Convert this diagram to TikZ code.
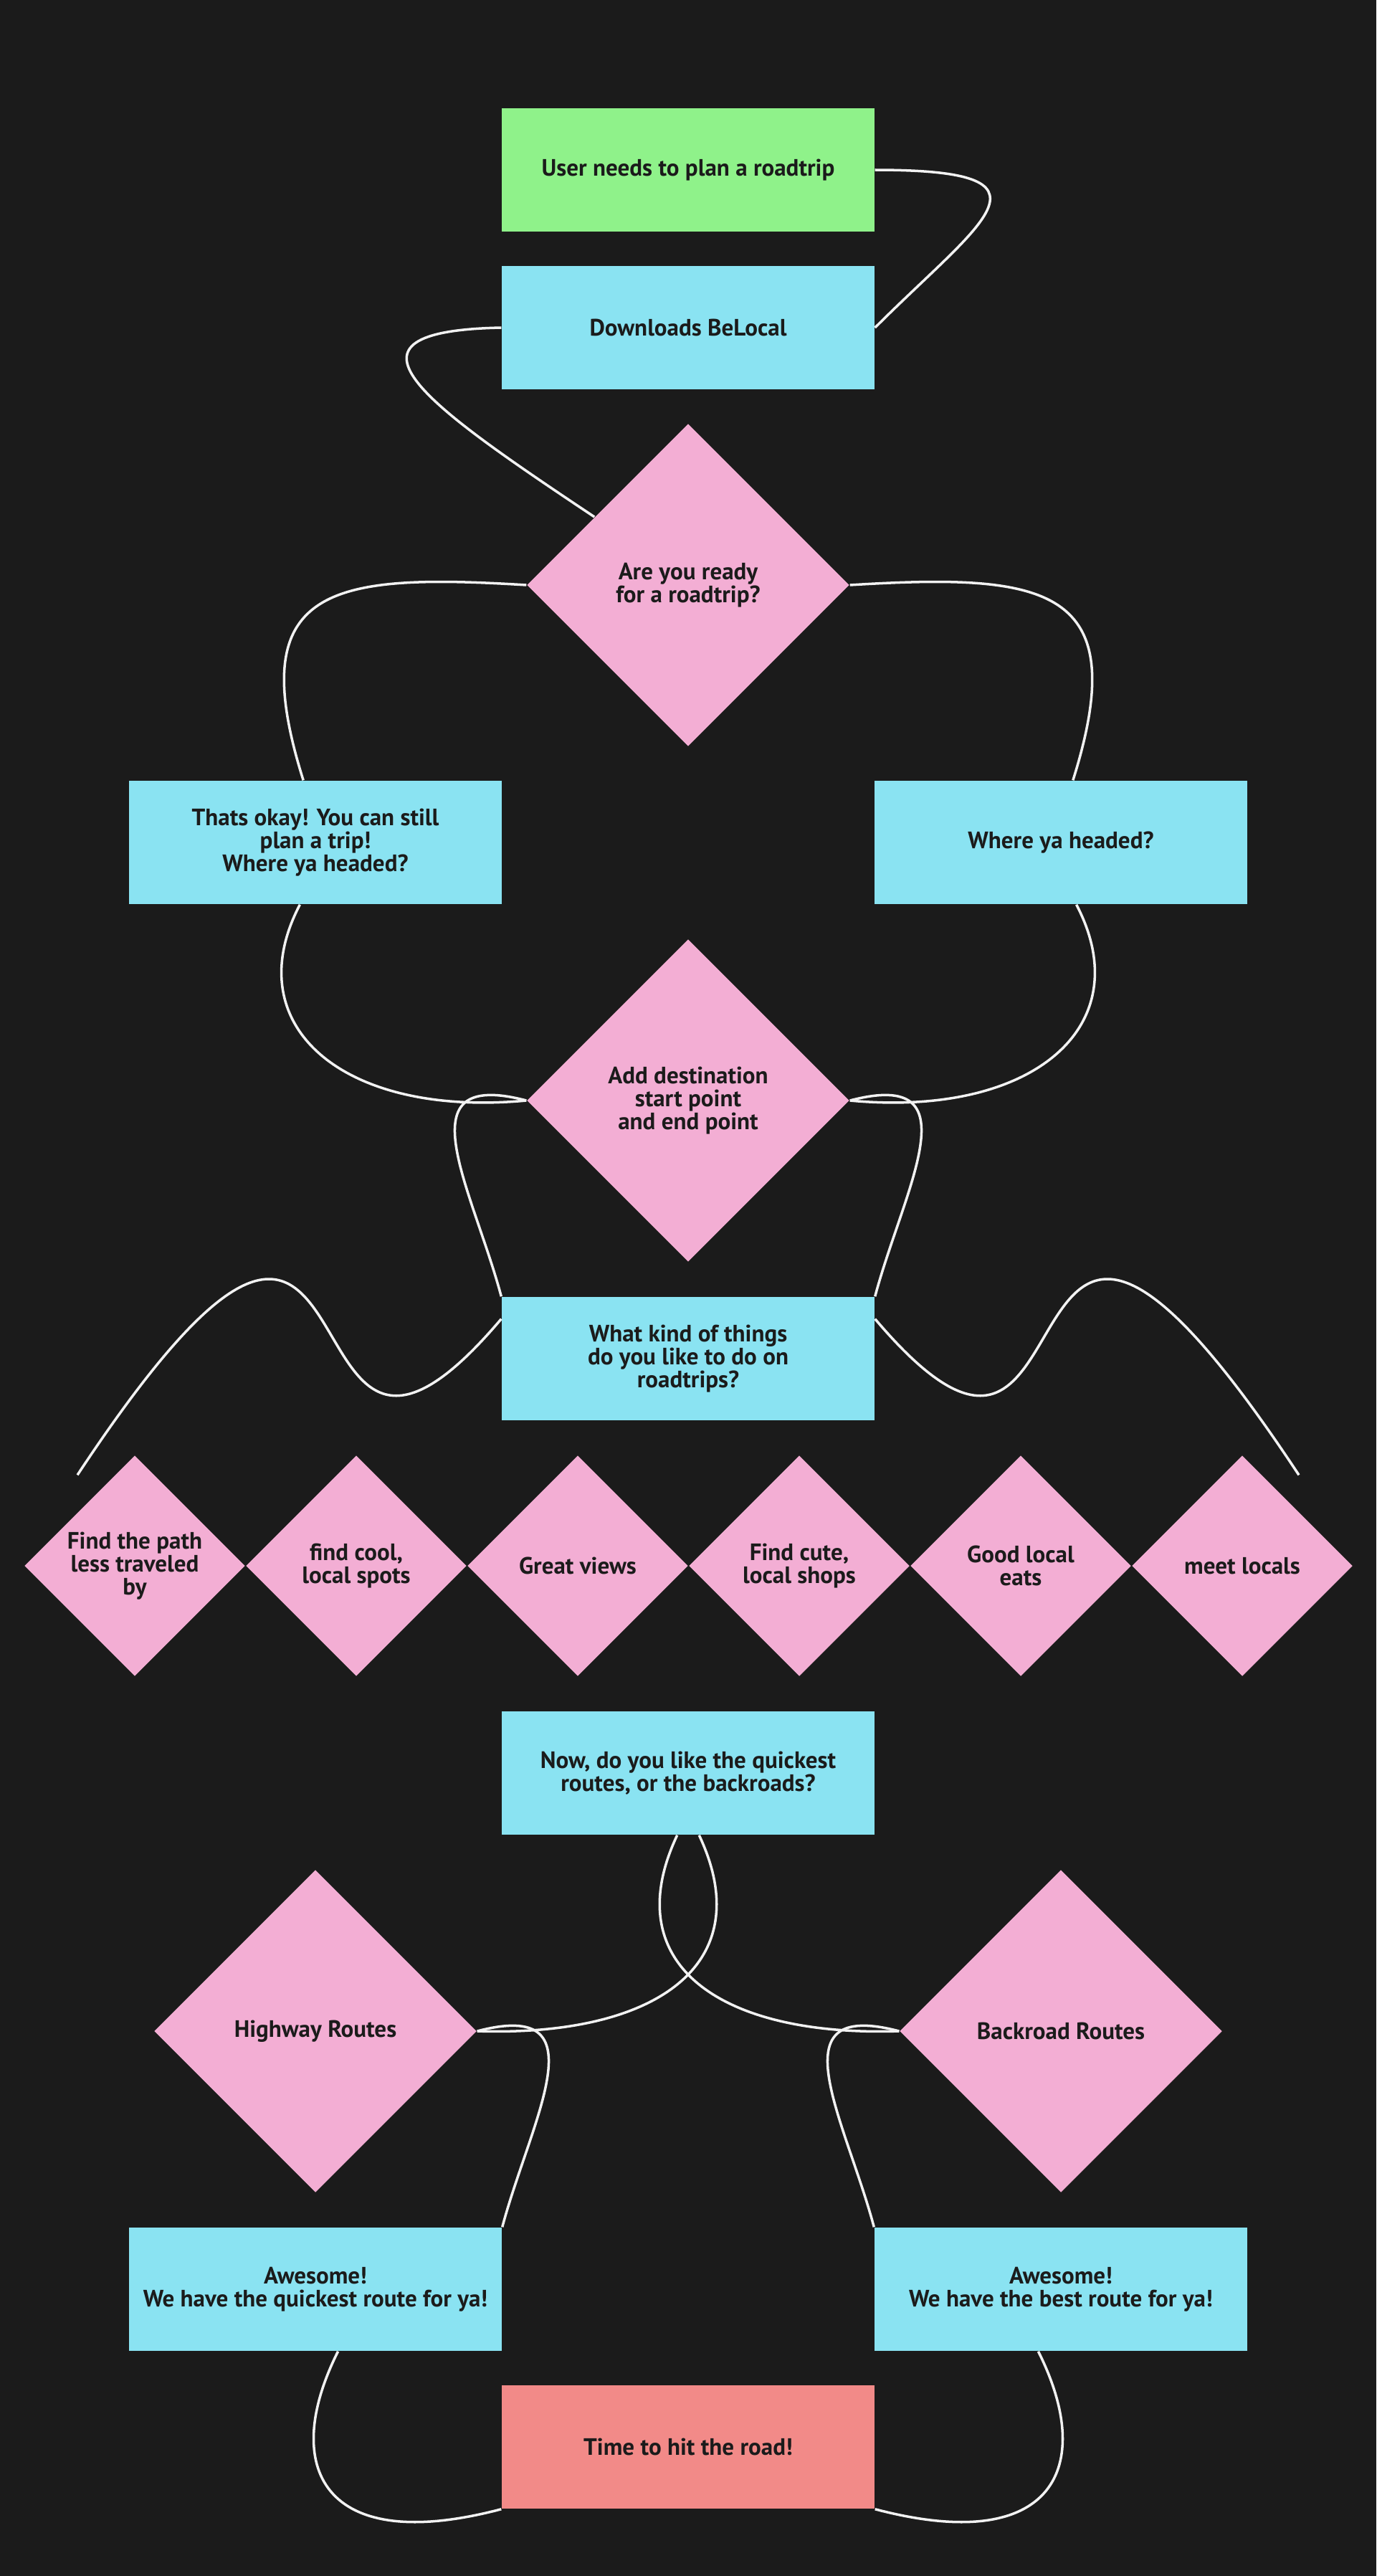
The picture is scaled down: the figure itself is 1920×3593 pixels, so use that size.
\documentclass[tikz,border=0pt]{standalone}
\usepackage{fontspec}
\setmainfont{PT Sans}
\usetikzlibrary{shapes.geometric}
\definecolor{pozadi}{HTML}{1B1B1B}
\definecolor{zelena}{HTML}{8FF28A}
\definecolor{modra}{HTML}{8AE3F2}
\definecolor{ruzova}{HTML}{F3AED4}
\definecolor{lososova}{HTML}{F28A88}
\definecolor{pismo}{HTML}{1B1B1B}
\definecolor{cara}{HTML}{F2F2F2}
\begin{document}
\begin{tikzpicture}[x=0.1mm,y=-0.1mm,
  box/.style={rectangle,minimum width=5.2cm,minimum height=1.72cm,inner sep=0pt,
    align=center,text=pismo,font=\bfseries\fontsize{9.4}{9.2}\selectfont},
  dec/.style={diamond,aspect=1,minimum width=4.5cm,minimum height=4.5cm,inner sep=0pt,
    fill=ruzova,align=center,text=pismo,font=\bfseries\fontsize{9.4}{9.2}\selectfont},
  mdec/.style={dec,minimum width=3.08cm,minimum height=3.08cm},
  spoj/.style={draw=cara,line width=1pt}]
  % pozadi, urcuje i velikost obrazku
  \fill[pozadi] (0,0) rectangle (1920,3593);
  % horni cast
  \node[box,fill=zelena] (start) at (960,237) {User needs to plan a roadtrip};
  \node[box,fill=modra] (dl) at (960,457) {Downloads BeLocal};
  \node[dec] (ready) at (960,816) {Are you ready\\for a roadtrip?};
  \node[box,fill=modra] (thats) at (440,1175) {Thats okay! You can still\\plan a trip!\\Where ya headed?};
  \node[box,fill=modra] (where) at (1480,1175) {Where ya headed?};
  \node[dec] (add) at (960,1535) {Add destination\\start point\\and end point};
  \node[box,fill=modra] (what) at (960,1895) {What kind of things\\do you like to do on\\roadtrips?};
  % rada moznosti
  \node[mdec] (path) at (188,2184) {Find the path\\less traveled\\by};
  \node[mdec] (cool) at (497,2184) {find cool,\\local spots};
  \node[mdec] (views) at (806,2184) {Great views};
  \node[mdec] (shops) at (1115,2184) {Find cute,\\local shops};
  \node[mdec] (eats) at (1424,2184) {Good local\\eats};
  \node[mdec] (meet) at (1733,2184) {meet locals};
  % volne konce car nad kosoctverci
  \coordinate (lfree) at ([shift={(-80,28)}]path.north);
  \coordinate (rfree) at ([shift={(79,28)}]meet.north);
  % spodni cast
  \node[box,fill=modra] (now) at (960,2473) {Now, do you like the quickest\\routes, or the backroads?};
  \node[dec] (hwy) at (440,2833) {Highway Routes};
  \node[dec] (back) at (1480,2833) {Backroad Routes};
  \node[box,fill=modra] (awl) at (440,3193) {Awesome!\\We have the quickest route for ya!};
  \node[box,fill=modra] (awr) at (1480,3193) {Awesome!\\We have the best route for ya!};
  \node[box,fill=lososova] (time) at (960,3413) {Time to hit the road!};
  % spojnice
  \draw[spoj] (start.east) .. controls +(270,0) and +(150,-150) .. (dl.east);
  \draw[spoj] (dl.west) .. controls +(-250,5) and +(-240,-160) .. (ready.144);
  \draw[spoj] (ready.west) .. controls +(-276,-17) and +(-85,-270) .. (thats.101);
  \draw[spoj] (ready.east) .. controls +(276,-17) and +(85,-270) .. (where.79);
  \draw[spoj] (thats.256) .. controls +(-89,170) and +(-255,24) .. (add.west);
  \draw[spoj] (where.284) .. controls +(89,170) and +(255,24) .. (add.east);
  \draw[spoj] (add.west) .. controls +(-175,-46) and +(-40,-150) .. (what.north west);
  \draw[spoj] (add.east) .. controls +(175,-46) and +(40,-150) .. (what.north east);
  \draw[spoj] (what.168) .. controls +(-330,390) and +(449,-680) .. (lfree);
  \draw[spoj] (what.12) .. controls +(330,390) and +(-449,-680) .. (rfree);
  % krizici se cary od otazky na trasy
  \draw[spoj] (now.260) .. controls +(-85,180) and +(-250,8) .. (back.west);
  \draw[spoj] (now.280) .. controls +(85,180) and +(250,8) .. (hwy.east);
  \draw[spoj] (hwy.east) .. controls +(175,-46) and +(40,-150) .. (awl.north east);
  \draw[spoj] (back.west) .. controls +(-175,-46) and +(-40,-150) .. (awr.north west);
  \draw[spoj] (awl.290) .. controls +(-81,161) and +(-250,66) .. (time.south west);
  \draw[spoj] (awr.250) .. controls +(81,161) and +(250,66) .. (time.south east);
\end{tikzpicture}
\end{document}
